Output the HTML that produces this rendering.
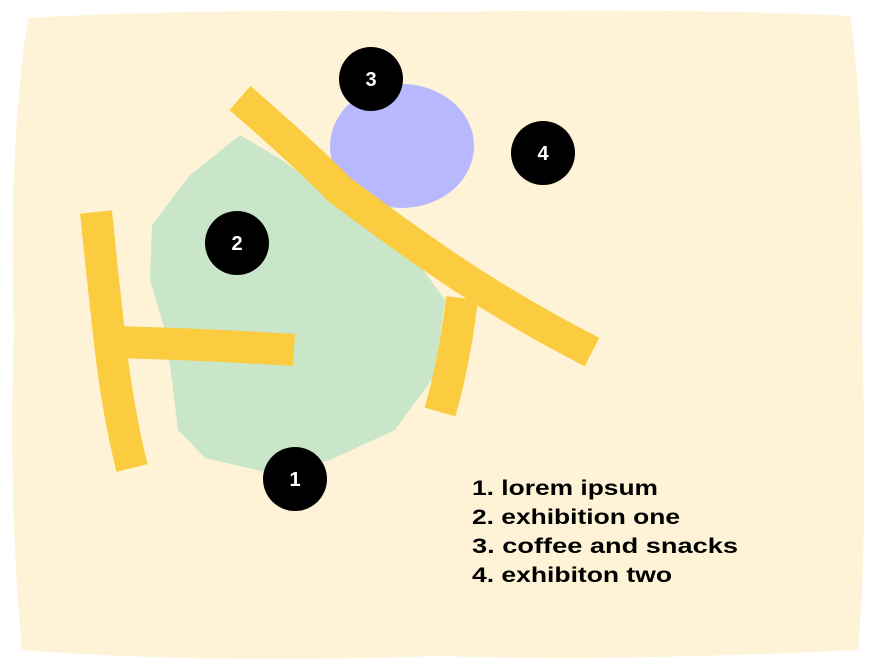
<!DOCTYPE html>
<html><head><meta charset="utf-8"><style>
html,body{margin:0;padding:0;background:#fff;}
svg{display:block;}
text{font-family:"Liberation Sans",sans-serif;}
</style></head><body>
<svg width="876" height="670" viewBox="0 0 876 670">
  <path d="M28,18 Q200,8 440,12 Q700,8 850,16 Q866,120 862,330 Q868,540 858,650 Q600,662 440,656 Q200,664 22,650 Q8,500 14,330 Q8,150 28,18 Z" fill="#fef3d6"/>
  <path d="M240,135 L190,175 L152,225 L150,280 L165,330 L172,380 L178,430 L205,458 L265,472 L330,460 L395,430 L435,375 L445,300 L405,245 L335,198 L282,160 Z" fill="#c9e6c9"/>
  <ellipse cx="402" cy="146" rx="72" ry="62" fill="#b8b8fe"/>
  <g fill="none" stroke="#fbcb40" stroke-width="32" stroke-linecap="butt" stroke-linejoin="round">
    <path d="M240,98 Q300,150 340,190 Q400,235 440,262 Q510,310 592,352"/>
    <path d="M462,298 Q455,360 440,412"/>
    <path d="M96,212 Q105,300 112,360 Q120,420 132,468"/>
    <path d="M112,342 Q200,344 294,350"/>
  </g>
  <g><circle cx="371" cy="79" r="32" fill="#000"/><text x="371" y="86" text-anchor="middle" fill="#fff" font-size="20" font-weight="bold">3</text></g>
  <g><circle cx="543" cy="153" r="32" fill="#000"/><text x="543" y="160" text-anchor="middle" fill="#fff" font-size="20" font-weight="bold">4</text></g>
  <g><circle cx="237" cy="243" r="32" fill="#000"/><text x="237" y="250" text-anchor="middle" fill="#fff" font-size="20" font-weight="bold">2</text></g>
  <g><circle cx="295" cy="479" r="32" fill="#000"/><text x="295" y="486" text-anchor="middle" fill="#fff" font-size="20" font-weight="bold">1</text></g>
  <g font-size="21" font-weight="bold" fill="#000">
    <text x="472" y="495" textLength="186" lengthAdjust="spacingAndGlyphs">1. lorem ipsum</text>
    <text x="472" y="524" textLength="208" lengthAdjust="spacingAndGlyphs">2. exhibition one</text>
    <text x="472" y="553" textLength="266" lengthAdjust="spacingAndGlyphs">3. coffee and snacks</text>
    <text x="472" y="582" textLength="200" lengthAdjust="spacingAndGlyphs">4. exhibiton two</text>
  </g>
</svg>
</body></html>
